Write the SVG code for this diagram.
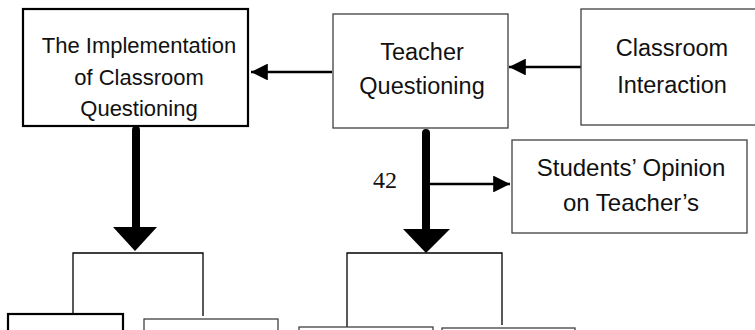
<svg xmlns="http://www.w3.org/2000/svg" width="755" height="330" viewBox="0 0 755 330">
<style>
.bx{fill:#fff;stroke:#404040;stroke-width:1.3}
.bk{fill:#fff;stroke:#000;stroke-width:2.2}
.t{font-family:"Liberation Sans",Arial,sans-serif;fill:#111;text-anchor:middle}
.ln{fill:none;stroke:#000;stroke-width:2.4}
.br{fill:none;stroke:#000;stroke-width:1.3}
.thick{stroke:#000;stroke-width:8;stroke-linecap:round;fill:none}
</style>
<defs>
<marker id="ah" viewBox="0 0 10 10" refX="10" refY="5" markerWidth="7.5" markerHeight="7" markerUnits="strokeWidth" orient="auto">
<path d="M0,0 L10,5 L0,10 z" fill="#000"/>
</marker>
</defs>
<rect x="0" y="0" width="755" height="330" fill="#fff"/>
<g id="connectors">
<line class="ln" x1="332" y1="72" x2="251" y2="72" marker-end="url(#ah)"/>
<line class="ln" x1="581" y1="67" x2="509" y2="67" marker-end="url(#ah)"/>
<line class="ln" x1="430" y1="184" x2="510" y2="184" marker-end="url(#ah)"/>
<line class="thick" x1="136" y1="130" x2="136" y2="230"/>
<polygon points="113,227 157,227 135,251" fill="#000"/>
<line class="thick" x1="426" y1="133" x2="426" y2="232"/>
<polygon points="403,229 450,229 426,253" fill="#000"/>
<polyline class="br" points="73,316 73,253 203,253 203,316"/>
<polyline class="br" points="347,327 347,253 502,253 502,325"/>
</g>
<g id="implementation">
<rect class="bk" x="23" y="9" width="225" height="117"/>
<text class="t" font-size="22" x="139" y="53">The Implementation</text>
<text class="t" font-size="22" x="139" y="85">of Classroom</text>
<text class="t" font-size="22" x="139" y="116">Questioning</text>
</g>
<g id="teacher-questioning">
<rect class="bx" x="333" y="14" width="175" height="114"/>
<text class="t" font-size="23.5" x="422" y="60">Teacher</text>
<text class="t" font-size="23.5" x="422" y="94">Questioning</text>
</g>
<g id="classroom-interaction">
<rect class="bx" x="581" y="9" width="180" height="116"/>
<text class="t" font-size="23.5" x="672" y="56">Classroom</text>
<text class="t" font-size="23.5" x="672" y="93">Interaction</text>
</g>
<g id="students-opinion">
<rect class="bx" x="512" y="140" width="235" height="93"/>
<text class="t" font-size="24" x="631" y="176">Students’ Opinion</text>
<text class="t" font-size="24" x="631" y="211">on Teacher’s</text>
</g>
<text id="label-42" x="373" y="188" font-family="'Liberation Serif','Times New Roman',serif" font-size="24" fill="#111">42</text>
<g id="sub1"><rect class="bk" x="8" y="314" width="115" height="30"/></g>
<g id="sub2"><rect class="bx" x="144" y="319" width="134" height="30"/></g>
<g id="sub3"><rect class="bx" x="299" y="327" width="134" height="30"/></g>
<g id="sub4"><rect class="bx" x="442" y="328" width="133" height="30"/></g>
</svg>
